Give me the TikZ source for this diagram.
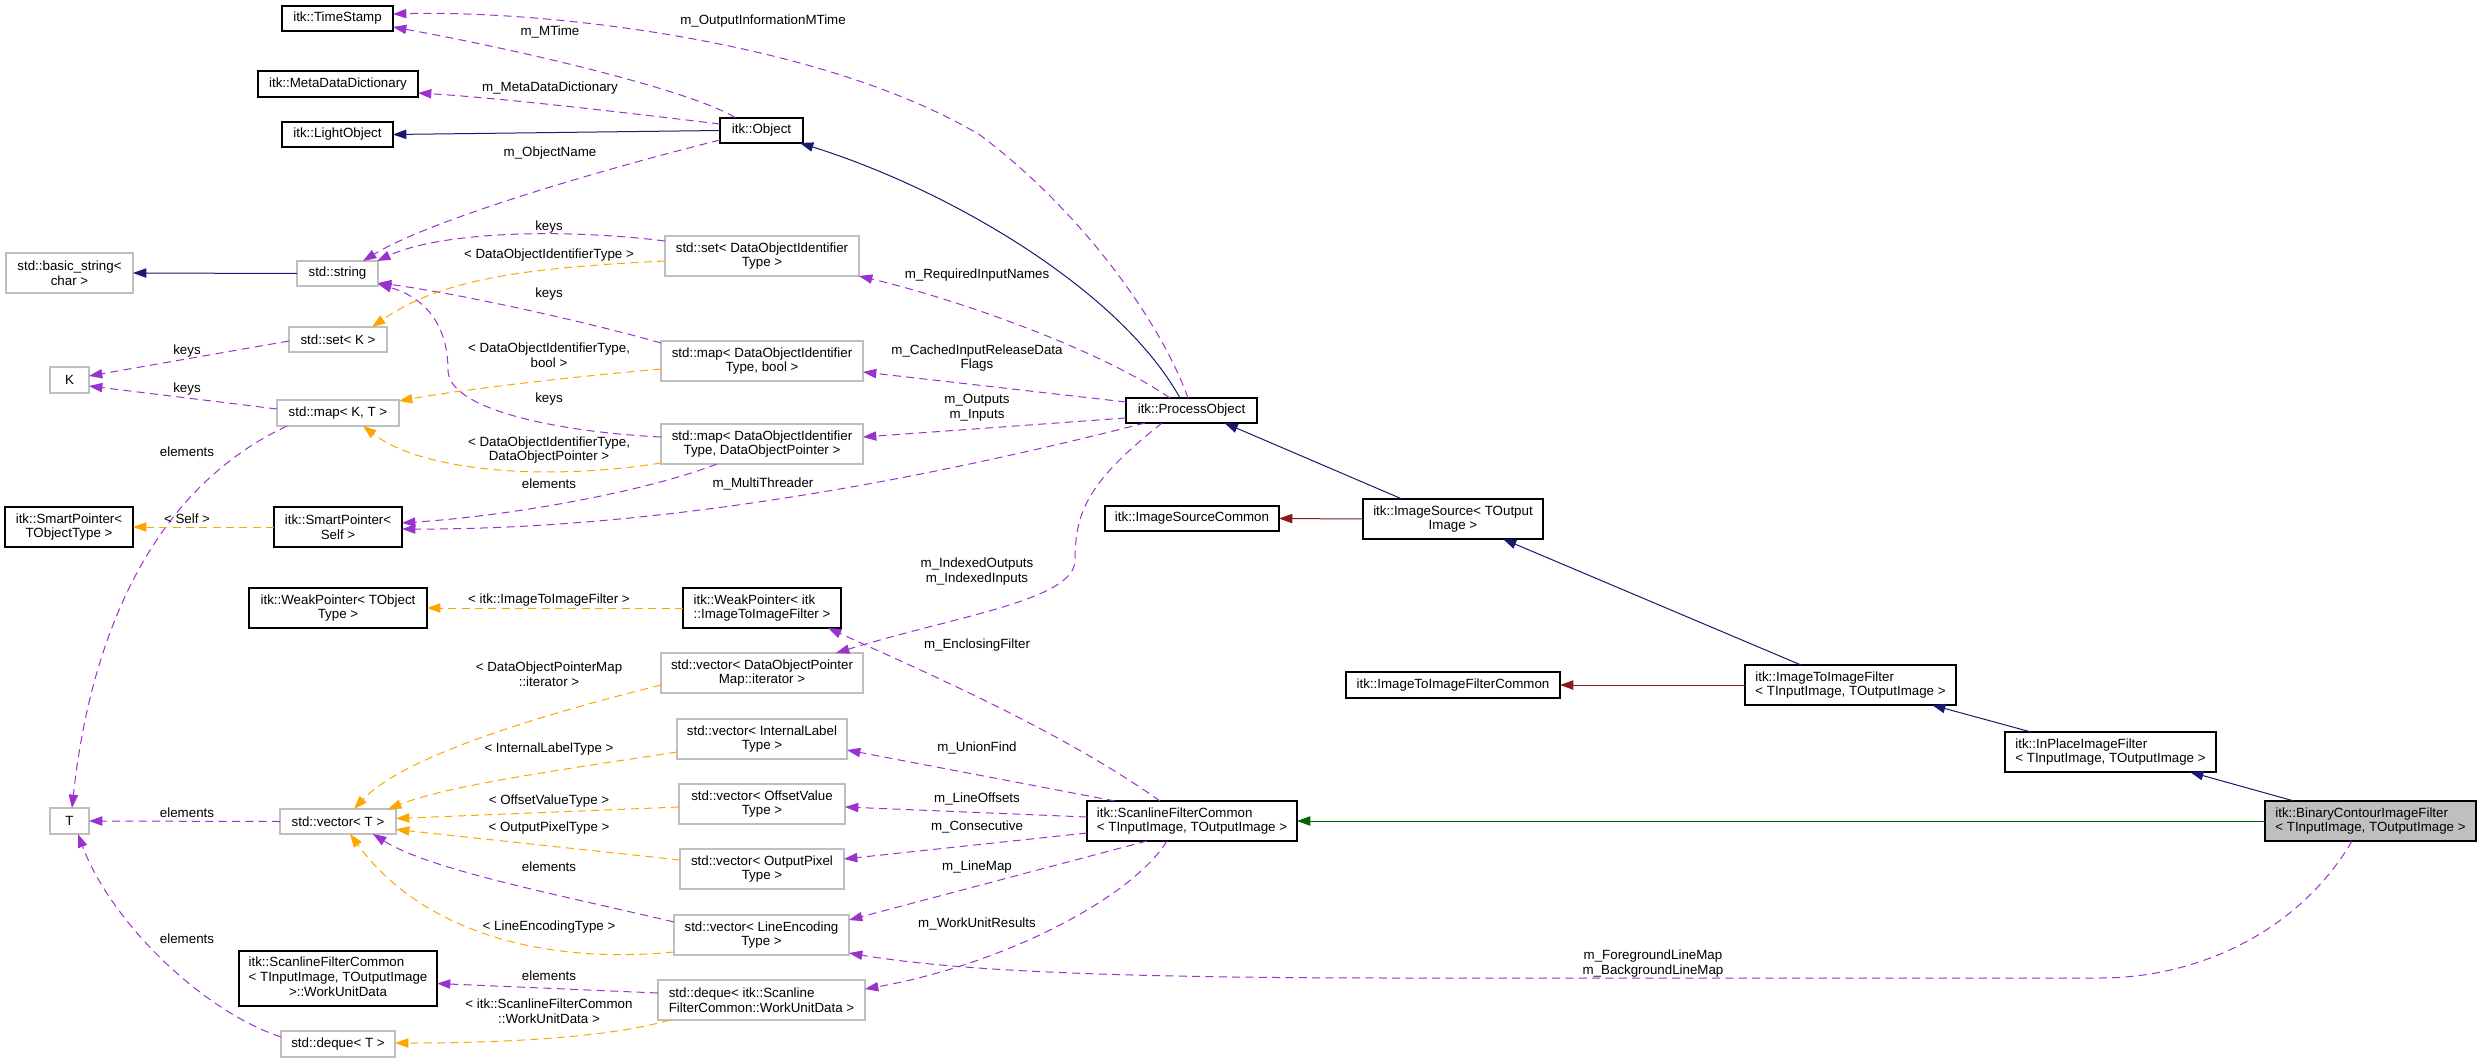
\documentclass[tikz,border=0pt]{standalone}
\usepackage{fontspec}
\setmainfont{Liberation Sans}
\usetikzlibrary{arrows.meta,calc}
\definecolor{navyc}{HTML}{191970}
\definecolor{purc}{HTML}{9A32CD}
\definecolor{orgc}{HTML}{FFA500}
\definecolor{redc}{HTML}{8B1A1A}
\definecolor{grnc}{HTML}{006400}
\definecolor{grayb}{HTML}{BFBFBF}
\newcommand\mknode[7]{\node[#6, minimum width={(#4-#2)*0.75pt}, minimum height={(#5-#3)*0.75pt}] (#1) at ({(#2+#4)/2},{(#3+#5)/2}) {#7};}
\begin{document}
\begin{tikzpicture}[x=0.75pt,y={(0pt,-0.75pt)},
  font=\fontsize{10}{11}\selectfont,
  bx/.style={draw=black, line width=0.8pt, fill=white, inner sep=0pt, outer sep=0pt, align=center},
  gx/.style={bx, draw=grayb},
  lx/.style={bx, align=left},
  tip/.style={-{Triangle[length=10pt,width=7pt]}},
  inh/.style={tip, draw=navyc, line width=0.75pt},
  redl/.style={tip, draw=redc, line width=0.75pt},
  grnl/.style={tip, draw=grnc, line width=0.75pt},
  use/.style={tip, draw=purc, line width=0.75pt, dash pattern=on 6pt off 4pt},
  tpl/.style={tip, draw=orgc, line width=0.75pt, dash pattern=on 6pt off 4pt},
  lbl/.style={inner sep=0pt, align=center}]
\useasboundingbox[fill=white] (0,0) rectangle (2481,1063);

% nodes
\mknode{ts}{282}{6}{393}{31}{bx}{itk::TimeStamp}
\mknode{mdd}{258}{71}{418}{97}{bx}{itk::MetaDataDictionary}
\mknode{lo}{282}{122}{393}{147}{bx}{itk::LightObject}
\mknode{obj}{720}{118}{803}{143}{bx}{itk::Object}
\mknode{bstr}{6}{253}{133}{293}{gx}{std::basic\_string<\\char >}
\mknode{str}{297}{261}{378}{286}{gx}{std::string}
\mknode{setdoi}{665}{236}{859}{276}{gx}{std::set< DataObjectIdentifier\\Type >}
\mknode{setk}{289}{327}{387}{352}{gx}{std::set< K >}
\mknode{K}{50}{367}{89}{393}{gx}{K}
\mknode{mapkt}{277}{400}{399}{426}{gx}{std::map< K, T >}
\mknode{mapbool}{661}{341}{863}{381}{gx}{std::map< DataObjectIdentifier\\Type, bool >}
\mknode{mapdop}{661}{424}{863}{464}{gx}{std::map< DataObjectIdentifier\\Type, DataObjectPointer >}
\mknode{spt}{5}{507}{133}{547}{bx}{itk::SmartPointer<\\TObjectType >}
\mknode{sps}{274}{507}{402}{547}{bx}{itk::SmartPointer<\\Self >}
\mknode{wpt}{249}{588}{427}{628}{bx}{itk::WeakPointer< TObject\\Type >}
\mknode{wpi}{683}{588}{841}{628}{lx}{itk::WeakPointer< itk\\::ImageToImageFilter >}
\mknode{vdop}{661}{653}{863}{693}{gx}{std::vector< DataObjectPointer\\Map::iterator >}
\mknode{vil}{677}{719}{847}{759}{gx}{std::vector< InternalLabel\\Type >}
\mknode{vov}{679}{784}{845}{824}{gx}{std::vector< OffsetValue\\Type >}
\mknode{vop}{680}{849}{844}{889}{gx}{std::vector< OutputPixel\\Type >}
\mknode{vle}{674}{915}{849}{955}{gx}{std::vector< LineEncoding\\Type >}
\mknode{dwud}{658}{980}{865}{1020}{gx, align=left}{std::deque< itk::Scanline\\FilterCommon::WorkUnitData >}
\mknode{wud}{239}{951}{437}{1006}{bx}{\begin{tabular}{@{}l@{}}itk::ScanlineFilterCommon\\< TInputImage, TOutputImage\\\multicolumn{1}{@{}c@{}}{>::WorkUnitData}\end{tabular}}
\mknode{dqt}{281}{1031}{395}{1057}{gx}{std::deque< T >}
\mknode{T}{50}{808}{89}{834}{gx}{T}
\mknode{vt}{280}{809}{396}{834}{gx}{std::vector< T >}
\mknode{po}{1126}{398}{1257}{423}{bx}{itk::ProcessObject}
\mknode{isc}{1105}{506}{1279}{531}{bx}{itk::ImageSourceCommon}
\mknode{is}{1363}{499}{1543}{539}{bx}{itk::ImageSource< TOutput\\Image >}
\mknode{itifc}{1346}{672}{1560}{698}{bx}{itk::ImageToImageFilterCommon}
\mknode{itif}{1745}{665}{1956}{705}{lx}{itk::ImageToImageFilter\\< TInputImage, TOutputImage >}
\mknode{ipif}{2005}{732}{2216}{772}{lx}{itk::InPlaceImageFilter\\< TInputImage, TOutputImage >}
\mknode{sfc}{1087}{801}{1297}{841}{lx}{itk::ScanlineFilterCommon\\< TInputImage, TOutputImage >}
\mknode{bcif}{2265}{801}{2476}{841}{lx, fill=grayb}{itk::BinaryContourImageFilter\\< TInputImage, TOutputImage >}

% inheritance
\draw[inh] (obj.west) -- (lo.east);
\draw[inh] ($(po)+(-11.5,-12.5)$) .. controls (1120,290) and (950,190) .. ($(obj)+(38.5,12.5)$);
\draw[inh] ($(is)+(-51,-20)$) -- ($(po)+(33,12.5)$);
\draw[inh] ($(itif)+(-49.5,-20)$) -- ($(is)+(50,20)$);
\draw[inh] ($(ipif)+(-79.5,-20)$) -- ($(itif)+(81.5,20)$);
\draw[inh] ($(bcif)+(-76.5,-20)$) -- ($(ipif)+(79.5,20)$);
\draw[grnl] (bcif.west) -- (sfc.east);
\draw[redl] (is.west) -- (isc.east);
\draw[redl] (itif.west) -- (itifc.east);
\draw[inh] (str.west) -- (bstr.east);

% usage (purple)
\draw[use] ($(obj)+(-26.5,-13)$) .. controls (690,90) and (520,50) .. ($(ts)+(55.5,8.5)$);
\draw[use] ($(po)+(-3.5,-12.5)$) .. controls (1160,320) and (1080,210) .. (980,135) .. controls (820,40) and (543,10) .. ($(ts)+(55.5,-4.5)$);
\draw[use] ($(obj)+(-41.5,-6.5)$) .. controls (620,112) and (500,98) .. ($(mdd)+(80,9)$);
\draw[use] ($(obj)+(-41.5,9.5)$) .. controls (600,170) and (430,220) .. ($(str)+(25.5,-12.5)$);
\draw[use] ($(setdoi)+(-97,-15)$) .. controls (560,228) and (440,232) .. ($(str)+(39.5,-12.5)$);
\draw[use] ($(mapbool)+(-101,-18)$) .. controls (580,320) and (450,292) .. ($(str)+(40.5,9.5)$);
\draw[use] ($(setk)+(-49,1.5)$) -- ($(K)+(19.5,-4)$);
\draw[use] ($(mapkt)+(-61,-4)$) -- ($(K)+(19.5,6)$);
\draw[use] ($(mapdop)+(-101,-7)$) .. controls (560,432) and (448,410) .. (448,370) .. controls (448,320) and (420,296) .. ($(str)+(40.5,10.5)$);
\draw[use] ($(mapdop)+(-45,20)$) .. controls (650,490) and (520,515) .. ($(sps)+(64,-4)$);
\draw[use] ($(po)+(-46.5,12.5)$) .. controls (1000,460) and (700,530) .. ($(sps)+(64,2)$);
\draw[use] ($(po)+(-65.5,-8.5)$) -- ($(mapbool)+(101,11)$);
\draw[use] ($(po)+(-65.5,7.5)$) -- ($(mapdop)+(101,-7)$);
\draw[use] ($(po)+(-21.5,-12.5)$) .. controls (1100,350) and (960,300) .. ($(setdoi)+(97,20)$);
\draw[use] ($(po)+(-29.5,12.5)$) .. controls (1090,480) and (1075,510) .. (1075,560) .. controls (1075,600) and (960,615) .. ($(vdop)+(74,-20)$);
\draw[use] ($(sfc)+(-32,-20)$) .. controls (1060,730) and (920,670) .. ($(wpi)+(66,20)$);
\draw[use] ($(sfc)+(-77,-20)$) -- ($(vil)+(85,11)$);
\draw[use] ($(sfc)+(-105,-4)$) -- ($(vov)+(83,3)$);
\draw[use] ($(sfc)+(-105,12)$) -- ($(vop)+(82,-10)$);
\draw[use] ($(sfc)+(-45,20)$) -- ($(vle)+(87.5,-15)$);
\draw[use] ($(sfc)+(-25,20)$) .. controls (1130,900) and (1000,965) .. ($(dwud)+(103.5,-11)$);
\draw[use] ($(bcif)+(-18.5,20)$) .. controls (2300,930) and (2200,978) .. (2100,978) -- (1400,978) .. controls (1100,978) and (950,970) .. ($(vle)+(87.5,18)$);
\draw[use] ($(mapkt)+(-51,13)$) .. controls (150,490) and (90,640) .. ($(T)+(2.5,-13)$);
\draw[use] (vt.west) -- (T.east);
\draw[use] ($(dqt)+(-57,-7)$) .. controls (200,1010) and (110,920) .. ($(T)+(8.5,13)$);
\draw[use] ($(vle)+(-87.5,-13)$) .. controls (560,895) and (430,870) .. ($(vt)+(35,12.5)$);
\draw[use] ($(dwud)+(-103.5,-7)$) -- ($(wud)+(99,5)$);

% template (orange)
\draw[tpl] ($(setdoi)+(-97,5)$) .. controls (520,268) and (440,280) .. ($(setk)+(34,-12.5)$);
\draw[tpl] ($(mapbool)+(-101,8)$) .. controls (560,378) and (460,390) .. ($(mapkt)+(61,-12)$);
\draw[tpl] ($(mapdop)+(-101,19)$) .. controls (540,482) and (420,470) .. ($(mapkt)+(25,13)$);
\draw[tpl] (sps.west) -- (spt.east);
\draw[tpl] (wpi.west) -- (wpt.east);
\draw[tpl] ($(vdop)+(-101,12)$) .. controls (520,720) and (400,760) .. ($(vt)+(16,-12.5)$);
\draw[tpl] ($(vil)+(-85,13)$) .. controls (560,770) and (450,785) .. ($(vt)+(50,-12.5)$);
\draw[tpl] ($(vov)+(-83,3)$) -- ($(vt)+(58,-3)$);
\draw[tpl] ($(vop)+(-82,-9)$) -- ($(vt)+(58,8)$);
\draw[tpl] ($(vle)+(-87.5,17)$) .. controls (540,965) and (420,930) .. ($(vt)+(12,12.5)$);
\draw[tpl] ($(dwud)+(-91.5,20)$) .. controls (600,1040) and (480,1043) .. ($(dqt)+(57,-1)$);

% labels
\node[lbl] (l1) at (550,32) {m\_MTime};
\node[lbl] (l2) at (763,21) {m\_OutputInformationMTime};
\node[lbl] (l3) at (550,88) {m\_MetaDataDictionary};
\node[lbl] (l4) at (550,153) {m\_ObjectName};
\node[lbl] (l5) at (549,227) {keys};
\node[lbl] (l6) at (549,255) {< DataObjectIdentifierType >};
\node[lbl] (l7) at (549,294) {keys};
\node[lbl] (l8) at (187,351) {keys};
\node[lbl] (l9) at (187,389) {keys};
\node[lbl] (l10) at (549,355.5) {< DataObjectIdentifierType,\\bool >};
\node[lbl] (l11) at (549,399) {keys};
\node[lbl] (l12) at (549,450) {< DataObjectIdentifierType,\\DataObjectPointer >};
\node[lbl] (l13) at (549,484) {elements};
\node[lbl] (l14) at (763,484) {m\_MultiThreader};
\node[lbl] (l15) at (977,358) {m\_CachedInputReleaseData\\Flags};
\node[lbl] (l16) at (977,407.5) {m\_Outputs\\m\_Inputs};
\node[lbl] (l17) at (977,275) {m\_RequiredInputNames};
\node[lbl] (l18) at (977,571.5) {m\_IndexedOutputs\\m\_IndexedInputs};
\node[lbl] (l19) at (977,645) {m\_EnclosingFilter};
\node[lbl] (l20) at (977,748) {m\_UnionFind};
\node[lbl] (l21) at (977,799) {m\_LineOffsets};
\node[lbl] (l22) at (977,827) {m\_Consecutive};
\node[lbl] (l23) at (977,867) {m\_LineMap};
\node[lbl] (l24) at (977,924) {m\_WorkUnitResults};
\node[lbl] (l25) at (1653,963.5) {m\_ForegroundLineMap\\m\_BackgroundLineMap};
\node[lbl] (l26) at (187,519) {< Self >};
\node[lbl] (l27) at (549,600) {< itk::ImageToImageFilter >};
\node[lbl] (l28) at (187,452) {elements};
\node[lbl] (l29) at (187,813) {elements};
\node[lbl] (l30) at (187,939) {elements};
\node[lbl] (l31) at (549,674) {< DataObjectPointerMap\\::iterator >};
\node[lbl] (l32) at (549,749) {< InternalLabelType >};
\node[lbl] (l33) at (549,801) {< OffsetValueType >};
\node[lbl] (l34) at (549,828) {< OutputPixelType >};
\node[lbl] (l35) at (549,867) {elements};
\node[lbl] (l36) at (549,927) {< LineEncodingType >};
\node[lbl] (l37) at (549,976) {elements};
\node[lbl] (l38) at (549,1011) {< itk::ScanlineFilterCommon\\::WorkUnitData >};
\end{tikzpicture}
\end{document}
